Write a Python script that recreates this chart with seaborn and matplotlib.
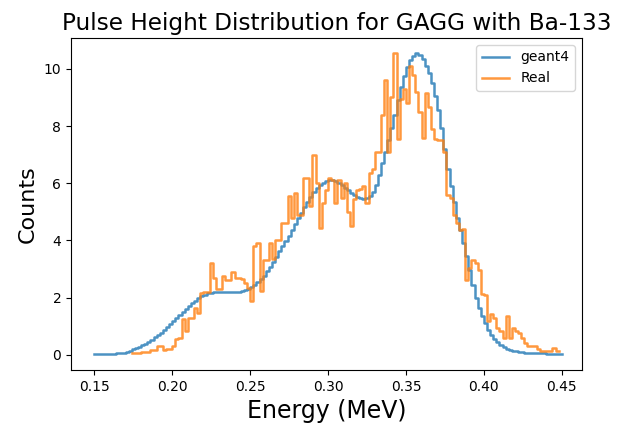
import numpy as np
import pandas as pd
import matplotlib
matplotlib.use("Agg")
import matplotlib.pyplot as plt
import seaborn as sns

# --- Data ---
# geant4 simulation: 150 bins of 0.002 MeV from 0.15 to 0.45 MeV
geant4_edges = np.linspace(0.15, 0.45, 151)
geant4_counts = [
    0.02, 0.02, 0.02, 0.03, 0.03, 0.04, 0.04, 0.05, 0.07, 0.08,
    0.11, 0.15, 0.19, 0.23, 0.28, 0.33, 0.39, 0.46, 0.53, 0.61,
    0.69, 0.78, 0.87, 0.97, 1.07, 1.17, 1.28, 1.39, 1.50, 1.61,
    1.71, 1.81, 1.90, 1.98, 2.05, 2.11, 2.15, 2.18, 2.20, 2.20,
    2.20, 2.20, 2.20, 2.20, 2.20, 2.20, 2.21, 2.23, 2.26, 2.30,
    2.36, 2.44, 2.53, 2.64, 2.77, 2.92, 3.08, 3.25, 3.43, 3.62,
    3.80, 3.98, 4.17, 4.37, 4.57, 4.77, 4.97, 5.17, 5.36, 5.53,
    5.68, 5.82, 5.93, 6.02, 6.07, 6.10, 6.10, 6.07, 6.01, 5.93,
    5.84, 5.75, 5.66, 5.58, 5.52, 5.47, 5.45, 5.47, 5.55, 5.70,
    5.95, 6.30, 6.70, 7.10, 7.50, 7.95, 8.40, 8.90, 9.35, 9.75,
    10.05, 10.30, 10.45, 10.55, 10.50, 10.35, 10.10, 9.85, 9.50, 9.05,
    8.55, 7.95, 7.20, 6.50, 5.90, 5.35, 4.80, 4.35, 3.90, 3.45,
    2.95, 2.45, 2.00, 1.65, 1.35, 1.10, 0.88, 0.70, 0.55, 0.44,
    0.35, 0.28, 0.22, 0.18, 0.15, 0.12, 0.10, 0.09, 0.08, 0.07,
    0.06, 0.06, 0.05, 0.05, 0.05, 0.04, 0.04, 0.04, 0.04, 0.04,
]

# measured spectrum: 137 bins of 0.002 MeV from 0.174 to 0.448 MeV
real_edges = np.linspace(0.174, 0.448, 138)
real_counts = [
    0.08, 0.08, 0.08, 0.10, 0.10, 0.10, 0.17, 0.17, 0.30, 0.30,
    0.17, 0.20, 0.20, 0.30, 0.55, 0.60, 1.25, 0.85, 1.30, 1.30,
    1.65, 1.45, 2.17, 2.20, 2.20, 3.20, 2.70, 2.30, 2.30, 2.75,
    2.60, 2.60, 2.90, 2.70, 2.70, 2.65, 2.50, 2.35, 1.90, 3.80,
    3.90, 2.24, 3.30, 3.30, 3.90, 3.35, 4.00, 4.00, 4.60, 4.60,
    5.55, 4.80, 5.65, 4.90, 4.90, 6.20, 6.20, 5.20, 7.00, 6.00,
    4.45, 5.30, 5.75, 6.20, 6.10, 5.30, 6.10, 5.50, 6.00, 5.00,
    4.50, 5.45, 5.75, 5.80, 5.90, 5.30, 6.35, 6.50, 7.10, 7.10,
    8.40, 9.60, 7.10, 9.00, 10.55, 7.55, 8.95, 9.30, 8.80, 10.10,
    9.80, 9.20, 8.50, 7.60, 9.15, 8.65, 7.90, 7.55, 7.50, 7.50,
    7.10, 5.60, 5.50, 4.90, 4.60, 4.35, 4.40, 2.60, 3.05, 3.30,
    3.20, 2.95, 2.13, 2.10, 1.20, 1.43, 1.30, 0.95, 0.85, 0.60,
    1.36, 0.60, 0.95, 0.85, 0.77, 0.60, 0.42, 0.30, 0.30, 0.30,
    0.20, 0.14, 0.14, 0.14, 0.14, 0.25, 0.14,
]

geant4_df = pd.DataFrame({
    "energy": (geant4_edges[:-1] + geant4_edges[1:]) / 2,
    "counts": geant4_counts,
})
real_df = pd.DataFrame({
    "energy": (real_edges[:-1] + real_edges[1:]) / 2,
    "counts": real_counts,
})

# --- Plot ---
fig = plt.figure(figsize=(6.18, 4.28), dpi=100)
ax = fig.add_axes([71 / 618, 58 / 428, 511 / 618, 332 / 428])

sns.histplot(data=geant4_df, x="energy", weights="counts", bins=list(geant4_edges),
             element="step", fill=False, color="#1f77b4", alpha=0.8,
             linewidth=1.8, label="geant4", ax=ax)
sns.histplot(data=real_df, x="energy", weights="counts", bins=list(real_edges),
             element="step", fill=False, color="#ff7f0e", alpha=0.8,
             linewidth=1.8, label="Real", ax=ax)

ax.set_title("Pulse Height Distribution for GAGG with Ba-133", fontsize=16.7, x=0.52)
ax.set_xlabel("Energy (MeV)", fontsize=17)
ax.set_ylabel("Counts", fontsize=16)
ax.set_xticks([0.15, 0.20, 0.25, 0.30, 0.35, 0.40, 0.45])
ax.set_yticks([0, 2, 4, 6, 8, 10])
ax.set_xlim(0.135, 0.463)
ax.set_ylim(-0.53, 11.08)
ax.legend(loc="upper right")

fig.savefig("out.png", dpi=100)
